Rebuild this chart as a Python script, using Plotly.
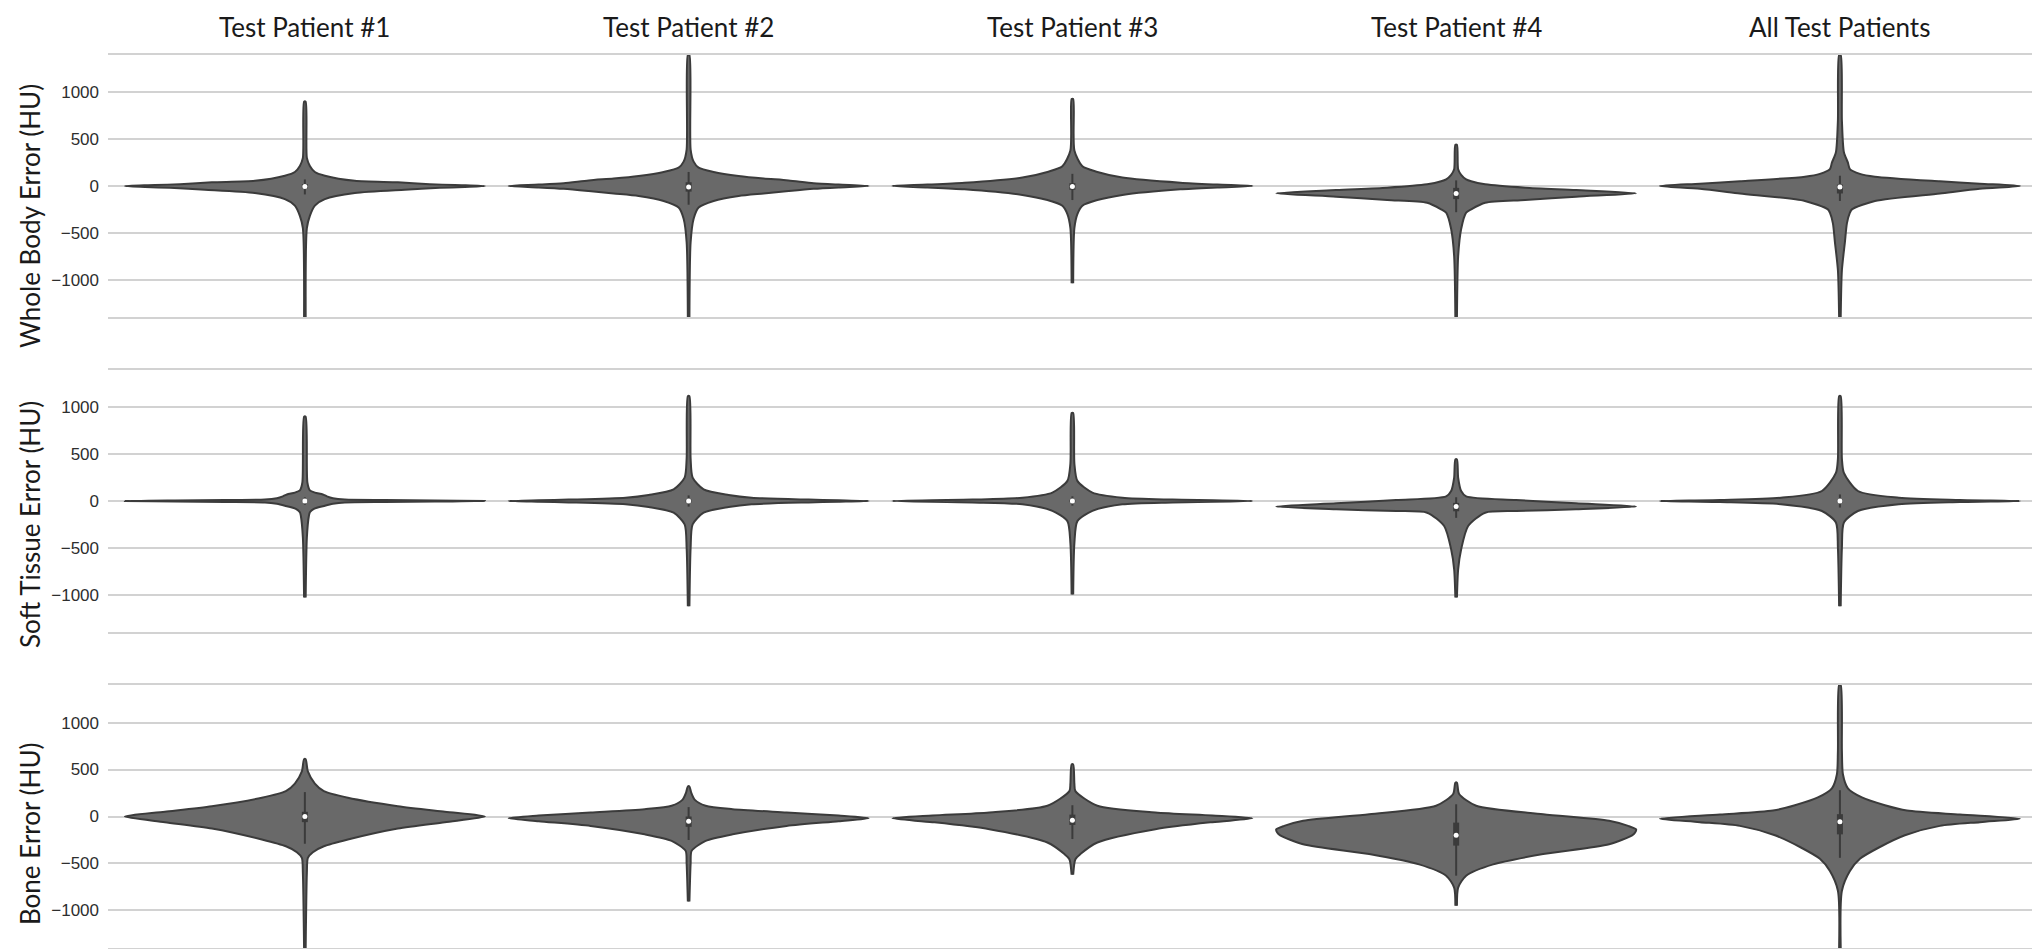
import plotly.graph_objects as go

# ---------------- data ----------------
columns = ["Test Patient #1", "Test Patient #2", "Test Patient #3", "Test Patient #4", "All Test Patients"]
row_titles = ["Whole Body Error (HU)", "Soft Tissue Error (HU)", "Bone Error (HU)"]
y_ticks = [-1000, -500, 0, 500, 1000]

# violin outlines: error level (HU) and relative half-width (0-180 = max)
wb_tp1_y = [-1400, -450, -320, -210, -140, -75, -40, -20, -10, 0, 10, 20, 40, 55, 110, 150, 215, 300, 900]
wb_tp1_w = [0.8, 2, 5, 10, 20, 50, 100, 135, 160, 180, 150, 125, 93, 50, 20, 10, 5, 2, 0.8]
wb_tp2_y = [-1400, -600, -350, -230, -160, -107, -80, -54, -30, -15, 0, 15, 30, 60, 80, 107, 150, 196, 260, 390, 1400]
wb_tp2_w = [0.8, 2, 5, 10, 25, 50, 75, 100, 125, 150, 180, 150, 125, 100, 75, 50, 25, 10, 5, 2, 0.8]
wb_tp3_y = [-1040, -450, -300, -210, -150, -95, -35, -15, 0, 15, 35, 90, 150, 210, 380, 930]
wb_tp3_w = [0.8, 2, 5, 10, 25, 50, 108, 145, 180, 145, 108, 50, 25, 10, 2, 0.8]
wb_tp4_y = [-1400, -750, -460, -285, -250, -180, -150, -114, -78, -43, -18, 18, 50, 71, 120, 180, 440]
wb_tp4_w = [0.8, 2, 5, 10, 15, 29, 69, 120, 180, 120, 69, 29, 15, 10, 5, 2, 0.8]
wb_all_y = [-1400, -900, -600, -400, -285, -250, -160, -80, -30, 0, 25, 50, 100, 130, 180, 250, 360, 700, 1400]
wb_all_w = [0.8, 2, 5, 7, 10, 12, 35, 100, 140, 180, 140, 100, 35, 20, 10, 8, 4, 2, 0.8]

st_tp1_y = [-1030, -390, -160, -120, -83, -50, -30, -15, -10, -6, 0, 6, 10, 15, 30, 50, 70, 90, 114, 200, 900]
st_tp1_w = [0.8, 2, 4, 5, 9, 20, 28, 40, 80, 130, 180, 130, 80, 40, 28, 22, 18, 10, 5, 2.5, 0.8]
st_tp2_y = [-1125, -500, -250, -125, -65, -35, -15, -8, 0, 8, 15, 35, 65, 125, 250, 450, 1120]
st_tp2_w = [0.8, 2, 4, 15, 40, 63, 120, 150, 180, 150, 120, 63, 40, 15, 4, 2, 0.8]
st_tp3_y = [-1000, -450, -215, -105, -35, -15, 0, 15, 35, 90, 215, 400, 940]
st_tp3_w = [0.8, 2, 5, 20, 50, 100, 180, 100, 50, 20, 5, 2, 0.8]
st_tp4_y = [-1030, -730, -517, -267, -125, -107, -89, -60, -25, 11, 50, 107, 250, 445]
st_tp4_w = [0.8, 2, 5, 12, 29, 60, 120, 180, 120, 60, 10, 5, 2, 0.8]
st_all_y = [-1125, -500, -230, -107, -35, -12, 0, 12, 35, 107, 300, 450, 1120]
st_all_w = [0.8, 2, 4, 18, 59, 120, 180, 120, 59, 18, 4, 2, 0.8]

bone_tp1_y = [-1400, -600, -440, -380, -317, -245, -128, -60, 0, 50, 110, 200, 270, 350, 480, 610]
bone_tp1_w = [0.8, 2, 3, 8, 19, 43, 93, 140, 180, 140, 93, 43, 19, 10, 3, 0.8]
bone_tp2_y = [-905, -500, -366, -260, -190, -100, -50, -18, 10, 43, 78, 114, 180, 256, 320]
bone_tp2_w = [0.8, 2, 3, 17, 44, 98, 150, 180, 150, 98, 44, 17, 6, 2.5, 0.8]
bone_tp3_y = [-620, -455, -400, -277, -135, -60, -20, 10, 43, 114, 270, 350, 555]
bone_tp3_w = [0.8, 3, 8, 25, 83, 140, 180, 140, 83, 25, 3, 2, 0.8]
bone_tp4_y = [-950, -757, -630, -510, -400, -295, -200, -170, -138, -100, -45, 25, 115, 240, 360]
bone_tp4_w = [0.8, 2, 10, 37, 87, 153, 176, 179, 180, 172, 153, 87, 20, 3, 0.8]
bone_all_y = [-1400, -790, -580, -450, -330, -200, -100, -60, -25, 20, 63, 120, 203, 300, 450, 700, 1400]
bone_all_w = [0.8, 2, 10, 20, 39, 65, 100, 140, 180, 120, 67, 45, 22, 8, 3, 2, 0.8]

# inner box statistics per row (one value per column)
wb_median = [-5, -10, -5, -80, -10]
wb_q1 = [-25, -60, -40, -140, -80]
wb_q3 = [20, 40, 30, -20, 15]
wb_wlo = [-90, -200, -150, -280, -160]
wb_whi = [70, 150, 130, 60, 110]

st_median = [0, 0, 0, -60, 0]
st_q1 = [-10, -15, -12, -110, -15]
st_q3 = [10, 15, 12, -20, 15]
st_wlo = [-40, -60, -50, -180, -70]
st_whi = [40, 60, 50, 40, 70]

bone_median = [0, -50, -40, -200, -55]
bone_q1 = [-60, -110, -90, -310, -190]
bone_q3 = [50, 0, 20, -65, 25]
bone_wlo = [-290, -250, -240, -630, -440]
bone_whi = [260, 100, 120, 130, 280]

rows = [
    dict(profiles=[(wb_tp1_y, wb_tp1_w), (wb_tp2_y, wb_tp2_w), (wb_tp3_y, wb_tp3_w), (wb_tp4_y, wb_tp4_w), (wb_all_y, wb_all_w)],
         med=wb_median, q1=wb_q1, q3=wb_q3, lo=wb_wlo, hi=wb_whi),
    dict(profiles=[(st_tp1_y, st_tp1_w), (st_tp2_y, st_tp2_w), (st_tp3_y, st_tp3_w), (st_tp4_y, st_tp4_w), (st_all_y, st_all_w)],
         med=st_median, q1=st_q1, q3=st_q3, lo=st_wlo, hi=st_whi),
    dict(profiles=[(bone_tp1_y, bone_tp1_w), (bone_tp2_y, bone_tp2_w), (bone_tp3_y, bone_tp3_w), (bone_tp4_y, bone_tp4_w), (bone_all_y, bone_all_w)],
         med=bone_median, q1=bone_q1, q3=bone_q3, lo=bone_wlo, hi=bone_whi),
]

# ---------------- style / layout ----------------
W, H = 2040, 949
X_RANGE = [-0.513, 4.524]
HALF = 0.469          # half-width (x units) of the widest violin part
FILL = "#696969"
EDGE = "#3b3b3b"
GRID = "#d2d2d2"
row_px = [(47, 309), (362, 624), (677, 940)]   # top/bottom spine pixels
title_px = [208, 517, 826]
dom_x = [100 / W, 2033 / W]

fig = go.Figure()

for r, row in enumerate(rows):
    xa = "x" if r == 0 else f"x{r+1}"
    ya = "y" if r == 0 else f"y{r+1}"
    for c, (ys, ws) in enumerate(row["profiles"]):
        pts = sorted(zip(ys, ws))
        right_x = [c + w / 180 * HALF for _, w in pts]
        right_y = [y for y, _ in pts]
        left_x = [c - w / 180 * HALF for _, w in pts[::-1]]
        left_y = [y for y, _ in pts[::-1]]
        fig.add_trace(go.Scatter(
            x=right_x + left_x, y=right_y + left_y, xaxis=xa, yaxis=ya,
            mode="lines", fill="toself", fillcolor=FILL,
            line=dict(color=EDGE, width=2, shape="spline", smoothing=0.7),
            hoverinfo="skip", showlegend=False))
        # whisker
        fig.add_trace(go.Scatter(
            x=[c, c], y=[row["lo"][c], row["hi"][c]], xaxis=xa, yaxis=ya,
            mode="lines", line=dict(color=EDGE, width=2),
            hoverinfo="skip", showlegend=False))
        # IQR bar
        fig.add_trace(go.Scatter(
            x=[c, c], y=[row["q1"][c], row["q3"][c]], xaxis=xa, yaxis=ya,
            mode="lines", line=dict(color=EDGE, width=6),
            hoverinfo="skip", showlegend=False))
        # median
        fig.add_trace(go.Scatter(
            x=[c], y=[row["med"][c]], xaxis=xa, yaxis=ya,
            mode="markers", marker=dict(color="white", size=5, line=dict(width=0)),
            hoverinfo="skip", showlegend=False))

layout = dict(
    width=W, height=H, margin=dict(l=0, r=0, t=0, b=0),
    paper_bgcolor="white", plot_bgcolor="white", showlegend=False,
)
for r in range(3):
    top, bot = row_px[r]
    ydom = [1 - bot / H, 1 - top / H]
    xk = "xaxis" if r == 0 else f"xaxis{r+1}"
    yk = "yaxis" if r == 0 else f"yaxis{r+1}"
    ysuffix = "y" if r == 0 else f"y{r+1}"
    xsuffix = "x" if r == 0 else f"x{r+1}"
    layout[xk] = dict(domain=dom_x, range=X_RANGE, anchor=ysuffix, showgrid=False, zeroline=False,
                      showticklabels=False, ticks="", showline=True, mirror=True,
                      linecolor=GRID, linewidth=2, fixedrange=True)
    layout[yk] = dict(domain=ydom, range=[-1400, 1400], anchor=xsuffix, tickmode="array",
                      tickvals=y_ticks, showgrid=True, gridcolor=GRID, gridwidth=2,
                      zeroline=False, showline=False, ticks="", ticklabelstandoff=8,
                      tickfont=dict(family="Liberation Sans, Arial, sans-serif", size=17, color="#2e2e2e"),
                      fixedrange=True)

annotations = []
for c, name in enumerate(columns):
    annotations.append(dict(text=name, x=c, xref="x", y=1 - 19 / H, yref="paper",
                            xanchor="center", yanchor="middle", showarrow=False,
                            font=dict(family="Lato, Open Sans, sans-serif", size=26, color="#1a1a1a")))
for r, t in enumerate(row_titles):
    annotations.append(dict(text=t, x=22 / W, xref="paper", y=1 - title_px[r] / H, yref="paper",
                            xanchor="center", yanchor="middle", textangle=-90, showarrow=False,
                            font=dict(family="Lato, Open Sans, sans-serif", size=26, color="#1a1a1a")))
layout["annotations"] = annotations

fig.update_layout(**layout)
fig.write_html("out.html")
